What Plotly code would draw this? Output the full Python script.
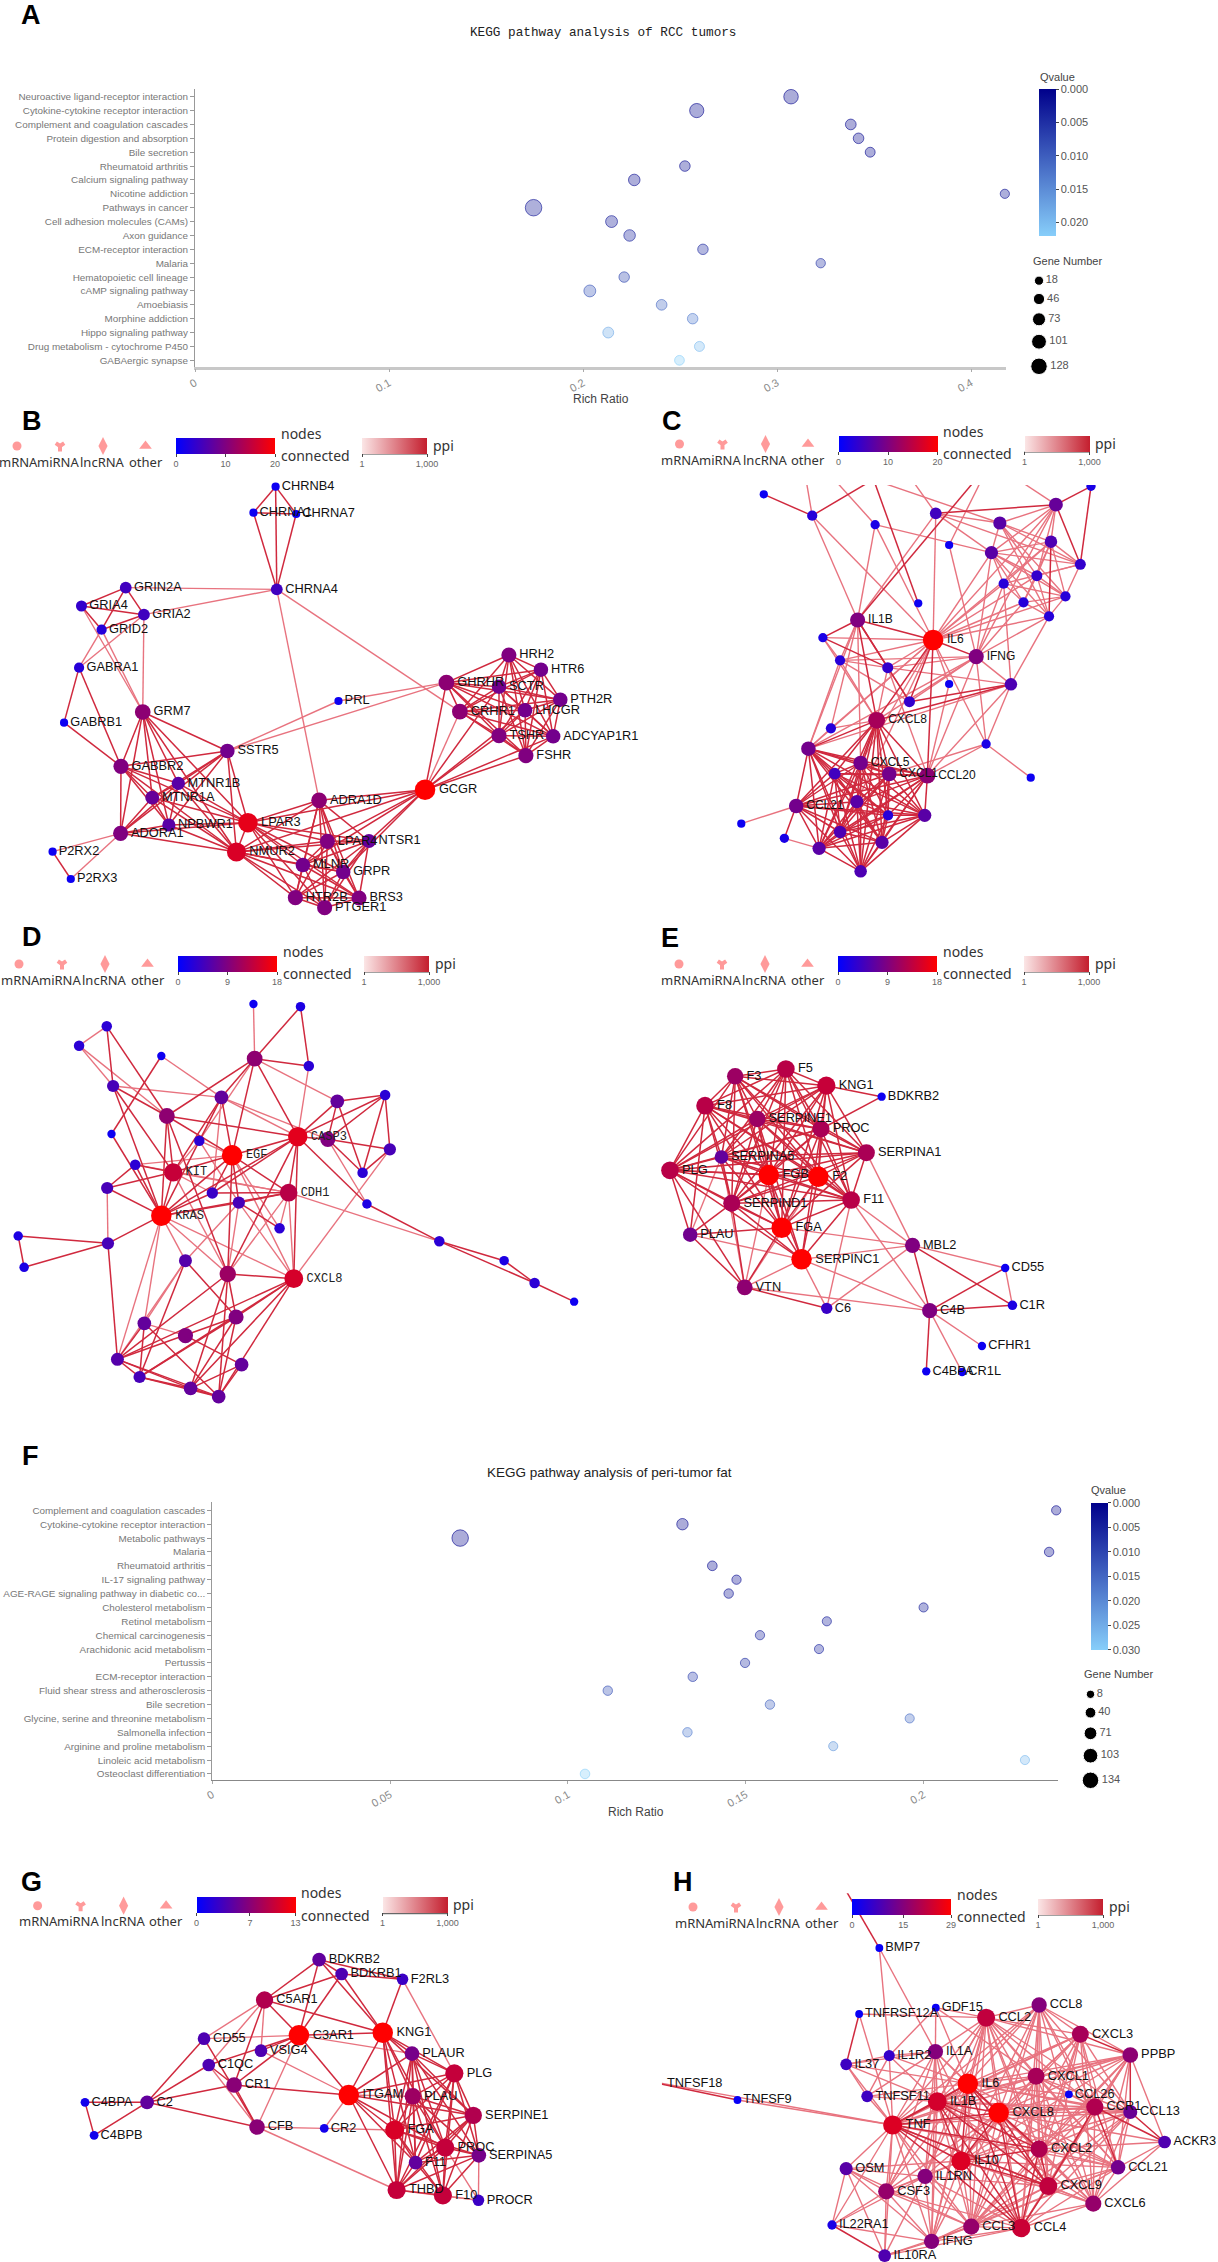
"""KEGG bubble charts and PPI networks, one page, axes laid out in page pixels."""

from itertools import combinations

import plotly.graph_objects as go

W, H = 1218, 2262

# ---- panel A
a_pathways = ["Neuroactive ligand-receptor interaction", "Cytokine-cytokine receptor interaction",
              "Complement and coagulation cascades", "Protein digestion and absorption", "Bile secretion",
              "Rheumatoid arthritis", "Calcium signaling pathway", "Nicotine addiction", "Pathways in cancer",
              "Cell adhesion molecules (CAMs)", "Axon guidance", "ECM-receptor interaction", "Malaria",
              "Hematopoietic cell lineage", "cAMP signaling pathway", "Amoebiasis", "Morphine addiction",
              "Hippo signaling pathway", "Drug metabolism - cytochrome P450", "GABAergic synapse"]
a_ratio = [0.3072, 0.2586, 0.338, 0.342, 0.348, 0.2525, 0.2264, 0.4174, 0.1745, 0.2147,
           0.224, 0.2618, 0.3225, 0.2212, 0.2035, 0.2405, 0.2565, 0.213, 0.26, 0.2497]
a_q = [0.0002, 0.0002, 0.0003, 0.0004, 0.0005, 0.001, 0.001, 0.0012, 0.0015, 0.002,
       0.003, 0.004, 0.005, 0.007, 0.009, 0.011, 0.013, 0.018, 0.020, 0.022]
a_genes = [95, 90, 38, 36, 27, 36, 50, 18, 128, 55, 50, 35, 20, 35, 55, 38, 35, 40, 28, 25]
a_size_legend = [18, 46, 73, 101, 128]
a_q_ticks = [0.0, 0.005, 0.010, 0.015, 0.020]
a_x_ticks = [0, 0.1, 0.2, 0.3, 0.4]

# ---- panel F
f_pathways = ["Complement and coagulation cascades", "Cytokine-cytokine receptor interaction", "Metabolic pathways",
              "Malaria", "Rheumatoid arthritis", "IL-17 signaling pathway",
              "AGE-RAGE signaling pathway in diabetic co...", "Cholesterol metabolism", "Retinol metabolism",
              "Chemical carcinogenesis", "Arachidonic acid metabolism", "Pertussis", "ECM-receptor interaction",
              "Fluid shear stress and atherosclerosis", "Bile secretion", "Glycine, serine and threonine metabolism",
              "Salmonella infection", "Arginine and proline metabolism", "Linoleic acid metabolism",
              "Osteoclast differentiation"]
f_ratio = [0.2373, 0.1322, 0.0697, 0.2353, 0.1406, 0.1474, 0.1452, 0.2, 0.1728, 0.154,
           0.1706, 0.1498, 0.1351, 0.1112, 0.1568, 0.1961, 0.1336, 0.1746, 0.2285, 0.1048]
f_q = [0.0005, 0.0005, 0.0006, 0.0008, 0.001, 0.0015, 0.002, 0.003, 0.004, 0.005,
       0.005, 0.006, 0.009, 0.011, 0.014, 0.016, 0.018, 0.022, 0.027, 0.030]
f_genes = [20, 50, 134, 22, 25, 20, 22, 18, 18, 20, 18, 20, 22, 22, 22, 18, 22, 18, 18, 24]
f_size_legend = [8, 40, 71, 103, 134]
f_q_ticks = [0.0, 0.005, 0.010, 0.015, 0.020, 0.025, 0.030]
f_x_ticks = [0, 0.05, 0.1, 0.15, 0.2]

# ---- network B, node positions read in zoomed crop units
b_genes = ["CHRNB4", "CHRNA1", "CHRNA7", "CHRNA4", "GRIN2A", "GRIA4", "GRIA2", "GRID2", "GABRA1", "GABRB1", "GRM7",
           "SSTR5", "GABBR2", "MTNR1B", "MTNR1A", "NPBWR1", "ADORA1", "P2RX2", "P2RX3", "LPAR3", "NMUR2", "ADRA1D",
           "GCGR", "LPAR4", "NTSR1", "MLNR", "GRPR", "HTR2B", "BRS3", "PTGER1", "PRL", "GHRHR", "SCTR", "CRHR1",
           "LHCGR", "PTH2R", "HRH2", "HTR6", "TSHR", "ADCYAP1R1", "FSHR"]
b_x = [697, 641, 749, 700, 318, 206, 364, 257, 200, 162, 361, 575, 306, 451, 385, 427, 305, 133, 179, 627, 598, 807,
       1075, 828, 933, 766, 868, 747, 908, 821, 856, 1129, 1262, 1163, 1328, 1417, 1287, 1368, 1262, 1399, 1330]
b_y = [260, 338, 342, 568, 563, 618, 644, 689, 803, 968, 936, 1053, 1099, 1150, 1193, 1275, 1300, 1355, 1437, 1268,
       1356, 1201, 1169, 1324, 1323, 1395, 1416, 1493, 1494, 1523, 903, 848, 860, 935, 931, 899, 765, 809, 1007,
       1009, 1067]
b_conn = [1, 1, 1, 5, 5, 4, 5, 3, 3, 1, 11, 9, 10, 7, 8, 7, 10, 1, 1, 18, 17, 11, 20, 10, 8, 9, 9, 10, 10, 10, 1,
          11, 9, 11, 9, 9, 10, 9, 10, 9, 10]
b_dark_cliques = ["CHRNB4 CHRNA1 CHRNA7 CHRNA4", "GRIN2A GRIA4 GRIA2 GRID2", "GABRA1 GABRB1 GABBR2",
                  "SSTR5 GABBR2 MTNR1B MTNR1A NPBWR1 ADORA1 LPAR3 NMUR2",
                  "LPAR3 NMUR2 ADRA1D LPAR4 NTSR1 MLNR GRPR HTR2B BRS3 PTGER1",
                  "GHRHR SCTR CRHR1 LHCGR PTH2R HRH2 HTR6 TSHR ADCYAP1R1 FSHR", "P2RX2 P2RX3"]
b_dark_stars = {"GRM7": "SSTR5 GABBR2 MTNR1B MTNR1A NPBWR1 ADORA1 LPAR3 NMUR2",
                "GCGR": "ADRA1D LPAR3 NMUR2 LPAR4 NTSR1 MLNR GRPR GHRHR TSHR FSHR ADCYAP1R1 SCTR LHCGR",
                "GRID2": "GRIA2"}
b_light_stars = {"CHRNA4": "GRIN2A GRIA2 ADRA1D CRHR1", "GRM7": "GRIA4 GRID2 GRIA2", "GABRA1": "GRID2 GRIA2",
                 "PRL": "GHRHR SSTR5", "SSTR5": "GHRHR", "ADORA1": "P2RX2 P2RX3", "GCGR": "CRHR1"}

# ---- network C
c_genes = ["n1", "n2", "n3", "n4", "n5", "n6", "n7", "n8", "n9", "n10", "n11", "n12", "n13", "n14", "n15", "n16",
           "n17", "IL1B", "IL6", "IFNG", "n18", "n19", "n20", "n21", "n22", "n23", "CXCL8", "n24", "n25", "CXCL5",
           "n26", "CXCL1", "CCL20", "n27", "n28", "CCL21", "n29", "n30", "n31", "n32", "n33", "n34", "n35", "n36",
           "n37", "u1", "u2", "u3", "u4", "u5", "u6", "u7", "u8", "u9"]
c_x = [377, 504, 669, 828, 996, 1143, 1235, 863, 974, 1130, 1207, 1093, 1006, 1058, 1168, 1125, 782, 623, 821, 934,
       532, 577, 702, 863, 1025, 759, 673, 553, 494, 631, 563, 706, 806, 960, 1077, 462, 621, 703, 799, 577, 687,
       522, 631, 318, 431, 476, 795, 492, 637, 437, 710, 987, 998, 926]
c_y = [283, 347, 374, 340, 369, 314, 259, 435, 458, 425, 493, 527, 551, 607, 589, 649, 610, 660, 720, 770, 713, 781,
       803, 852, 853, 905, 961, 985, 1046, 1089, 1121, 1122, 1127, 1032, 1133, 1218, 1205, 1246, 1246, 1296, 1327,
       1345, 1414, 1271, 1315, 160, 150, 150, 150, 150, 150, 150, 150, 150]
c_conn = [1, 3, 2, 5, 7, 8, 2, 1, 7, 6, 4, 4, 3, 3, 3, 3, 1, 10, 20, 10, 2, 3, 4, 1, 6, 4, 13, 3, 9, 9, 5, 9, 11, 2,
          1, 9, 7, 3, 7, 6, 7, 7, 6, 1, 2, 1, 1, 1, 1, 1, 1, 1, 1, 1]
c_dark_cliques = ["CXCL8 n25 CXCL5 n26 CXCL1 CCL20 CCL21 n29 n30 n31 n32 n33 n34 n35"]
c_dark_stars = {"n1": "n2", "n2": "u2", "n4": "n6", "n6": "n7 n11", "n7": "n11", "n10": "n16", "IL1B": "n18 IL6 CXCL8 n20 n23 u8",
                "IL6": "IFNG CXCL8 n23 CCL20", "n22": "n23 CXCL8", "n17": "u4", "CCL21": "n37", "n18": "n20"}
c_light_stars = {"n2": "IL1B IL6 u1", "n3": "IL1B IL6 n9 u3", "n4": "IL6 n5 n9 n11 IL1B u6", "n5": "n6 n10 n9 n11 n12 n15 n16 u5",
                 "n6": "n9 n10 n12 n13 IL6 IFNG u9", "n8": "IFNG u7", "n9": "IL6 n12 n13 n14 n15 n16 n11 IFNG n10",
                 "n10": "n11 n12 n13 n14 n15 IL6", "n11": "n15 n13 n12", "n12": "n14 n15 n16 IL6", "n13": "n14 n15 n22 IL6",
                 "n14": "n15 n16 IL6", "n15": "n16 IL6", "n16": "IL6 IFNG n22",
                 "IL6": "n18 n19 n20 n9 n24 n25 CXCL5 n29", "IFNG": "n13 n14 n20 n22 n23 CXCL8 CCL20 n25 n27 n19",
                 "n22": "n25 CCL20 n27 n20", "n27": "CCL20 n28 IL6 CXCL1", "IL1B": "n19 n24 n25 CXCL5 n3",
                 "n18": "n19 CXCL8", "n19": "n20 n23 CXCL8 n25", "n20": "CXCL8 n23 CCL20", "n21": "IL6 CCL20",
                 "n24": "CXCL8 n25", "CCL21": "n36", "n37": "n34"}

# ---- network D
d_genes = ["a1", "a2", "a3", "a4", "a5", "a6", "a7", "a8", "a9", "a10", "a11", "a12", "a13", "a14", "CASP3", "a15",
           "EGF", "a16", "a17", "KIT", "a18", "a19", "a20", "CDH1", "a21", "a22", "KRAS", "a23", "a24", "a25", "a26",
           "a27", "a28", "a29", "a30", "CXCL8", "a31", "a32", "a33", "a34", "a35", "a36", "a37", "a38", "a39", "a40"]
d_x = [641, 760, 270, 200, 408, 644, 781, 286, 560, 974, 853, 422, 282, 504, 753, 829, 587, 986, 342, 438, 917, 271,
       537, 730, 604, 928, 408, 707, 46, 273, 1111, 469, 61, 1275, 576, 743, 1352, 1452, 597, 365, 469, 297, 611,
       353, 482, 553]
d_y = [222, 230, 289, 347, 378, 386, 408, 468, 502, 495, 514, 558, 612, 632, 620, 628, 676, 658, 704, 727, 728, 774,
       789, 788, 818, 822, 857, 895, 918, 940, 934, 992, 1012, 992, 1032, 1046, 1059, 1115, 1161, 1180, 1217, 1288,
       1304, 1341, 1375, 1400]
d_conn = [1, 2, 3, 3, 1, 10, 3, 5, 7, 3, 7, 10, 1, 3, 16, 9, 18, 5, 3, 14, 3, 5, 4, 13, 5, 2, 18, 3, 2, 5, 3, 6, 2,
          2, 11, 15, 3, 1, 9, 7, 9, 6, 7, 5, 7, 7]
d_dark_stars = {"a2": "a6 a7", "a3": "a8 a12", "a5": "a13", "a13": "KRAS", "a6": "a7 a9 a12 CASP3 EGF", "a8": "a12 KRAS KIT",
                "a9": "EGF KIT KRAS", "a12": "EGF CASP3 KIT KRAS a30", "a11": "CASP3 a10 a18 a15", "a10": "CASP3 a15 a18 a16",
                "a15": "CASP3 a16 a18", "a16": "a18", "a17": "KIT a19 KRAS", "a19": "KIT KRAS", "KRAS": "KIT EGF a20 a21 CDH1 CASP3 a25",
                "EGF": "CASP3 CDH1 a20 a21 KIT a30", "CASP3": "a20 CDH1 CXCL8 a30 a22", "CDH1": "a20 a21", "a21": "a23",
                "a25": "a24 a28 a36", "a24": "a28", "a22": "a26", "a26": "a29 a31", "a29": "a31", "a31": "a32",
                "a30": "CXCL8 a33 a36 a39 a40", "CXCL8": "a33 a36 a38 a39 a40", "a27": "a33 a38", "a33": "a36 a38 a39 a40",
                "a34": "a36 a38 a40", "a36": "a38 a39 a40", "a37": "a39 a40", "a38": "a39 a40", "a39": "a40", "a35": "a37"}
d_light_stars = {"a1": "a6", "a3": "a4", "a4": "a8 a12", "a5": "a9", "a6": "a11 EGF a14", "a7": "CASP3", "a8": "a9",
                 "a9": "CASP3 a15 a20", "a10": "a16", "a16": "CXCL8", "a17": "EGF CDH1", "a19": "a25", "a22": "a15",
                 "KRAS": "a27 a30 a34 CXCL8 a36", "KIT": "a30 a20 CDH1", "EGF": "a23 a30 CXCL8 a14", "a14": "KIT a21",
                 "CDH1": "a26 a23 CXCL8 a30", "a21": "a27 a30", "a25": "KRAS", "a27": "a34 a36", "a34": "a35", "CXCL8": "a21"}

# ---- network E
e_genes = ["F3", "F5", "KNG1", "BDKRB2", "F8", "SERPINE1", "PROC", "SERPINA1", "SERPINA5", "PLG", "FGB", "F2",
           "SERPIND1", "F11", "FGA", "PLAU", "MBL2", "SERPINC1", "CD55", "VTN", "C6", "C1R", "C4B", "CFHR1", "C4BPA",
           "CR1L"]
e_x = [302, 435, 541, 686, 223, 360, 527, 646, 266, 131, 390, 520, 293, 606, 424, 184, 767, 476, 1010, 327, 542,
       1029, 812, 949, 803, 897]
e_y = [439, 417, 467, 500, 527, 567, 597, 668, 681, 721, 735, 740, 820, 810, 893, 914, 946, 988, 1014, 1072, 1135,
       1126, 1142, 1248, 1324, 1326]
e_conn = [11, 13, 14, 1, 13, 11, 12, 12, 7, 13, 18, 18, 12, 13, 18, 8, 9, 18, 1, 10, 4, 2, 9, 1, 1, 1]
e_dark_cliques = ["F3 F5 KNG1 F8 SERPINE1 PROC SERPINA1 SERPINA5 PLG FGB F2 SERPIND1 F11 FGA"]
e_dark_stars = {"BDKRB2": "KNG1 PROC", "SERPINC1": "FGB F2 FGA SERPIND1 F11 PLG PROC SERPINE1", "PLAU": "PLG SERPIND1 FGA VTN F8",
                "VTN": "PLG SERPIND1 FGA C6", "MBL2": "C4B C1R", "C4B": "CD55 C1R C4BPA"}
e_light_stars = {"SERPINC1": "PLAU VTN C6 MBL2 C4B", "VTN": "FGB F2 SERPINC1 SERPINA5 C4B", "PLAU": "SERPINA5",
                 "MBL2": "SERPINA1 F11 FGA CD55 C6", "C4B": "CFHR1 CR1L F11", "CD55": "C1R", "C6": "F11"}

# ---- network G
g_genes = ["BDKRB2", "BDKRB1", "F2RL3", "C5AR1", "C3AR1", "KNG1", "CD55", "VSIG4", "PLAUR", "C1QC", "PLG", "CR1",
           "ITGAM", "PLAU", "C4BPA", "C2", "SERPINE1", "CFB", "CR2", "FGA", "C4BPB", "PROC", "SERPINA5", "F11", "THBD",
           "F10", "PROCR"]
g_x = [807, 864, 1018, 669, 756, 968, 516, 660, 1042, 528, 1149, 592, 882, 1044, 215, 372, 1197, 650, 820, 998, 238,
       1126, 1211, 1051, 1003, 1120, 1210]
g_y = [329, 372, 388, 450, 556, 548, 566, 602, 611, 645, 670, 705, 735, 739, 757, 757, 796, 831, 835, 840, 856, 893,
       916, 938, 1020, 1036, 1051]
g_conn = [5, 4, 3, 9, 13, 13, 4, 4, 6, 4, 10, 7, 13, 8, 1, 5, 9, 7, 1, 11, 1, 10, 6, 5, 10, 10, 3]
g_dark_cliques = ["PLAUR PLG PLAU SERPINE1 FGA PROC SERPINA5 F11 THBD F10"]
g_dark_stars = {"BDKRB2": "BDKRB1 F2RL3 C5AR1 C3AR1 KNG1", "BDKRB1": "F2RL3 C5AR1 C3AR1 KNG1", "F2RL3": "KNG1",
                "C5AR1": "C3AR1 KNG1 CR1", "C3AR1": "KNG1 VSIG4 C1QC CR1 ITGAM", "KNG1": "ITGAM PLAUR PLG PLAU FGA SERPINE1 PROC F11 THBD",
                "CD55": "C2 CFB", "C1QC": "C2 CR1", "CR1": "C2 ITGAM CFB", "C2": "C4BPA C4BPB CFB", "C4BPA": "C4BPB",
                "ITGAM": "PLAUR PLG FGA SERPINE1 F11 THBD PROC"}
g_light_stars = {"C5AR1": "VSIG4 CD55 C1QC", "C3AR1": "CD55 CFB PLAUR", "VSIG4": "ITGAM", "C1QC": "CFB",
                 "CFB": "CR2 THBD", "ITGAM": "CR2 PLAU", "CR2": "FGA", "F2RL3": "PLG", "PROCR": "PROC THBD F10 SERPINA5"}

# ---- network H
h_genes = ["BMP7", "GDF15", "TNFRSF12A", "CCL8", "CCL2", "CXCL3", "PPBP", "IL1A", "IL1R2", "IL37", "CXCL1", "IL6",
           "TNFSF11", "CCL26", "IL1B", "CCR1", "CCL13", "CXCL8", "TNFSF9", "TNF", "ACKR3", "CXCL2", "IL10", "CCL21",
           "OSM", "IL1RN", "CXCL9", "CSF3", "CXCL6", "IL22RA1", "CCL3", "CCL4", "IFNG", "IL10RA", "p1", "p2"]
h_x = [680, 828, 627, 1099, 960, 1207, 1338, 827, 706, 593, 1091, 912, 648, 1177, 832, 1245, 1338, 993, 308, 715,
       1428, 1099, 894, 1306, 593, 800, 1123, 698, 1241, 556, 921, 1052, 817, 694, 556, 40]
h_y = [294, 473, 492, 465, 503, 553, 615, 605, 617, 643, 679, 701, 739, 733, 755, 771, 786, 788, 750, 825, 876, 897,
       933, 952, 956, 979, 1008, 1024, 1061, 1125, 1130, 1134, 1174, 1217, 50, 686]
h_conn = [1, 1, 1, 15, 22, 19, 16, 15, 6, 7, 19, 29, 7, 1, 24, 20, 12, 29, 1, 25, 9, 20, 25, 13, 10, 15, 22, 17, 17,
          3, 17, 23, 15, 9, 1, 1]
h_dark_cliques = ["CXCL8 IL6 TNF IL1B IL10 CCL4 CXCL9 CXCL2"]
h_dark_stars = {"BMP7": "p1", "p2": "TNFSF9", "IL22RA1": "IL10RA", "TNFRSF12A": "IL37", "ACKR3": "CCR1 CCL13",
                "CCR1": "CCL21 CXCL9", "PPBP": "CXCL3 CCL13"}
h_light_cliques = ["CCL8 CCL2 CXCL3 PPBP CXCL1 IL6 CCR1 CCL13 CXCL8 CXCL2 IL10 CCL21 CXCL9 CXCL6 CCL3 CCL4 TNF IL1B",
                   "TNF IL1B IL6 IL1A IL10 IL1RN CSF3 CXCL8 CCL2 IFNG CCL4",
                   "OSM CSF3 IL22RA1 IL10RA IFNG TNF IL1RN", "IL37 IL1R2 IL1A IL1B TNFSF11 TNF IL6",
                   "ACKR3 CCR1 CCL13 CCL21 CXCL2 CXCL6 PPBP CXCL8"]
h_light_stars = {"BMP7": "IL1A IL1R2", "TNFRSF12A": "TNF CCL2", "GDF15": "IL1R2 IL1A CCL2 CXCL1 IL6", "TNFSF9": "TNF", "p2": "TNF",
                 "CCL26": "CCR1 CXCL8 IL6 CXCL1", "IL10RA": "CCL4 CCL3 CSF3", "IFNG": "CCL3 CCL21 CXCL9 CXCL8 IL10",
                 "IL1RN": "CCL3 CXCL9 IL6", "CSF3": "CCL3 CXCL8 IL10", "OSM": "IL10 CCL3"}

ppi_scale = [[0, "#fbe6e6"], [1, "#c41e2e"]]
node_scale = [[0, "#0000ff"], [1, "#ff0000"]]
q_scale = [[0, "#87cefa"], [1, "#00008b"]]
DARK_EDGE, LIGHT_EDGE = "#d0293e", "#e8737f"
SALMON = "#ff9a9a"
LEGEND_TEXT = "Noto Sans"

fig = go.Figure()
layout = {}
axis_count = 0
color_count = 0


def add_axes(x0, x1, y0, y1, xr, yr, **kw):
    """New axis pair placed at page pixels x0-x1, y0-y1. Returns x and y refs."""
    global axis_count
    axis_count += 1
    n = axis_count
    xopts = dict(domain=[x0 / W, min(x1 / W, 1)], range=xr, anchor=f"y{n}", visible=False, fixedrange=True)
    yopts = dict(domain=[max(1 - y1 / H, 0), 1 - y0 / H], range=yr, anchor=f"x{n}", visible=False, fixedrange=True)
    xopts.update(kw.get("x", {}))
    yopts.update(kw.get("y", {}))
    layout[f"xaxis{n}"] = xopts
    layout[f"yaxis{n}"] = yopts
    return f"x{n}", f"y{n}"


def new_coloraxis(cmin, cmax, scale, colorbar):
    global color_count
    color_count += 1
    name = "coloraxis" if color_count == 1 else f"coloraxis{color_count}"
    layout[name] = dict(cmin=cmin, cmax=cmax, colorscale=scale, colorbar=colorbar)
    return name


page_x, page_y = add_axes(0, W, 0, H, [0, W], [H, 0])


def text(x, y, s, size=13, color="#333", family=LEGEND_TEXT, anchor="center", bold=False):
    fig.add_annotation(xref=page_x, yref=page_y, x=x, y=y, text=f"<b>{s}</b>" if bold else s, showarrow=False,
                       xanchor=anchor, yanchor="middle", font=dict(size=size, color=color, family=family))


def horizontal_bar(left, top, length, vmin, vmax, ticks, ticktext, scale):
    bar = dict(orientation="h", x=left / W, xanchor="left", y=1 - top / H, yanchor="top",
               lenmode="pixels", len=length, thicknessmode="pixels", thickness=16, xpad=0, ypad=0,
               outlinewidth=0, ticks="outside", ticklen=3, tickcolor="#444", tickvals=ticks, ticktext=ticktext,
               tickfont=dict(size=9, color="#666", family="Liberation Sans"))
    return new_coloraxis(vmin, vmax, scale, bar)


def add_legend(dx, dy, node_ticks):
    """The mRNA/miRNA/... key and both gradient bars; offsets measured against panel B."""
    fig.add_trace(go.Scatter(x=[17 + dx, 60 + dx, 103 + dx, 145.5 + dx], y=[446 + dy] * 4, mode="markers",
                             xaxis=page_x, yaxis=page_y, hoverinfo="skip", showlegend=False,
                             marker=dict(symbol=["circle", "y-down", "diamond-tall", "triangle-up"], size=[9, 7, 13, 11],
                                         color=SALMON, opacity=1, line=dict(color=SALMON, width=[0, 4, 0, 0]))))
    for cx, label in zip([18, 57.7, 102.8, 145.5], ["mRNA", "miRNA", "lncRNA", "other"]):
        text(cx + dx, 461.7 + dy, label)
    text(301 + dx, 433 + dy, "nodes", size=14)
    text(315 + dx, 455.7 + dy, "connected", size=14)
    text(443 + dx, 445 + dy, "ppi", size=14)
    ppi = horizontal_bar(362 + dx, 437.7 + dy, 65, 1, 1000, [1, 1000], ["1", "1,000"], ppi_scale)
    fig.add_trace(go.Scatter(x=[0, 0], y=[0, 0], mode="markers", xaxis=page_x, yaxis=page_y, hoverinfo="skip",
                             showlegend=False, marker=dict(color=[1, 1000], coloraxis=ppi, opacity=0, size=1)))
    fig.add_shape(type="line", xref=page_x, yref=page_y, x0=362 + dx, x1=427 + dx, y0=454 + dy, y1=454 + dy,
                  line=dict(color="#444", width=1))
    return horizontal_bar(176 + dx, 437.7 + dy, 99, node_ticks[0], node_ticks[-1], node_ticks,
                          [str(t) for t in node_ticks], node_scale)


def edge_pairs(cliques=(), stars=None):
    pairs = set()
    for group in cliques:
        pairs.update(frozenset(p) for p in combinations(group.split(), 2))
    for hub, others in (stars or {}).items():
        pairs.update(frozenset((hub, o)) for o in others.split())
    return pairs


def add_network(box, scale_x, genes, xs, ys, conn, dark, light, node_ticks, label_font):
    """box is page x/y origin; data stays in crop units, converted only through the axis domain."""
    ox, oy, xr, yr = box
    xref, yref = add_axes(ox + xr[0] / scale_x, ox + xr[1] / scale_x, oy + yr[0] / 3, oy + yr[1] / 3, xr, yr[::-1])
    pos = {g: (x, y) for g, x, y in zip(genes, xs, ys)}
    for pairs, color, width in ((light - dark, LIGHT_EDGE, 1.4), (dark, DARK_EDGE, 1.5)):
        ex, ey = [], []
        for pair in sorted(sorted(p) for p in pairs):
            a, b = pair
            ex += [pos[a][0], pos[b][0], None]
            ey += [pos[a][1], pos[b][1], None]
        fig.add_trace(go.Scatter(x=ex, y=ey, mode="lines", xaxis=xref, yaxis=yref, hoverinfo="skip", showlegend=False,
                                 line=dict(color=color, width=width)))
    cmax = node_ticks[-1]
    sizes = [6.5 + 14 * (c / cmax) ** 0.7 for c in conn]
    labels = [g if g[0].isupper() else "" for g in genes]
    axis_name = add_legend(*LEGEND_OFFSETS[len(drawn)], node_ticks)
    drawn.append(axis_name)
    fig.add_trace(go.Scatter(x=xs, y=ys, mode="markers+text", xaxis=xref, yaxis=yref, showlegend=False, text=labels,
                             textposition="middle right", textfont=label_font, hovertext=genes, hoverinfo="text",
                             marker=dict(color=conn, coloraxis=axis_name, size=sizes, opacity=1, line=dict(width=0))))
    return xref, yref


def add_bubbles(box, rng, cat_range, pathways, x_ticks, axis_line):
    x0, x1, y0, y1 = box
    return add_axes(
        x0, x1, y0, y1, rng, cat_range,
        x=dict(visible=True, showgrid=False, zeroline=False, showline=True, linecolor=axis_line[0], linewidth=axis_line[1],
               ticks="outside", ticklen=3, tickcolor="#aaa", tickvals=x_ticks, ticktext=[str(t) for t in x_ticks],
               tickangle=-30, tickfont=dict(size=11, color="#888", family="Liberation Sans")),
        y=dict(visible=True, type="category", categoryorder="array", categoryarray=pathways, showgrid=False,
               zeroline=False, showline=True, linecolor="#999", linewidth=1, ticks="outside", ticklen=4,
               tickcolor="#999", tickfont=dict(size=9.9, color="#777", family="Liberation Sans")))


def gene_size(g, gmax):
    return 7.5 + 9 * (g / gmax) ** 0.85


def draw_bubbles(xref, yref, ratio, pathways, q, genes, caxis):
    gmax = max(genes)
    sizes = [gene_size(g, gmax) for g in genes]
    neg_q = [-v for v in q]  # colorbar runs 0 at top, so the scale is fed negated
    fig.add_trace(go.Scatter(x=ratio, y=pathways, mode="markers", xaxis=xref, yaxis=yref, showlegend=False,
                             cliponaxis=False,
                             marker=dict(color=neg_q, coloraxis=caxis, size=sizes, opacity=0.33, line=dict(width=0))))
    fig.add_trace(go.Scatter(x=ratio, y=pathways, mode="markers", xaxis=xref, yaxis=yref, showlegend=False,
                             hoverinfo="skip", cliponaxis=False,
                             marker=dict(color=neg_q, coloraxis=caxis, size=sizes, symbol="circle-open", opacity=0.6,
                                         line=dict(width=1))))


def q_bar(left, top, length, qmax, ticks):
    bar = dict(x=left / W, xanchor="left", y=1 - top / H, yanchor="top", lenmode="pixels", len=length,
               thicknessmode="pixels", thickness=17, xpad=0, ypad=0, outlinewidth=0, ticks="outside", ticklen=3,
               tickcolor="#444", tickvals=[-t for t in ticks], ticktext=[f"{t:.3f}" for t in ticks],
               tickfont=dict(size=11, color="#555", family="Liberation Sans"))
    return new_coloraxis(-qmax, 0, q_scale, bar)


# ---- bubble panel A
xa, ya = add_bubbles((195, 1006, 89, 366.7), [0, 0.418], [19.46, -0.555], a_pathways, a_x_ticks, ("#c8c8c8", 2.5))
draw_bubbles(xa, ya, a_ratio, a_pathways, a_q, a_genes, q_bar(1039, 89, 147, 0.022, a_q_ticks))
text(603, 32.7, "KEGG pathway analysis of RCC tumors", size=12.7, color="#222", family="Liberation Mono")
text(601, 399, "Rich Ratio", size=12, color="#444", family="Liberation Sans")
text(1057, 76.7, "Qvalue", size=11, color="#444", family="Liberation Sans")
text(1067, 260.7, "Gene Number", size=11, color="#444", family="Liberation Sans")
fig.add_trace(go.Scatter(x=[1039] * 5, y=[280.7, 299, 319.3, 341.7, 366.3], mode="markers+text", xaxis=page_x,
                         yaxis=page_y, showlegend=False, hoverinfo="skip", text=[str(v) for v in a_size_legend],
                         textposition="middle right", textfont=dict(size=11, color="#555", family="Liberation Sans"),
                         marker=dict(color="#000", opacity=1, size=[gene_size(v, 128) for v in a_size_legend])))

# ---- bubble panel F
xf, yf = add_bubbles((212.3, 1058, 1502, 1780.3), [0, 0.2378], [19.46, -0.6], f_pathways, f_x_ticks, ("#888", 1))
draw_bubbles(xf, yf, f_ratio, f_pathways, f_q, f_genes, q_bar(1090.5, 1502.7, 146.6, 0.030, f_q_ticks))
text(609, 1472.3, "KEGG pathway analysis of peri-tumor fat", size=13.5, color="#222", family="Liberation Sans")
text(636, 1812, "Rich Ratio", size=12, color="#444", family="Liberation Sans")
text(1108.5, 1490, "Qvalue", size=11, color="#444", family="Liberation Sans")
text(1118, 1674, "Gene Number", size=11, color="#444", family="Liberation Sans")
fig.add_trace(go.Scatter(x=[1090.5] * 5, y=[1694.3, 1712.7, 1733.3, 1755.7, 1780.3], mode="markers+text", xaxis=page_x,
                         yaxis=page_y, showlegend=False, hoverinfo="skip", text=[str(v) for v in f_size_legend],
                         textposition="middle right", textfont=dict(size=11, color="#555", family="Liberation Sans"),
                         marker=dict(color="#000", opacity=1, size=[gene_size(v, 134) for v in f_size_legend])))

# ---- networks
arial = dict(size=12.8, color="#111", family="Liberation Sans")
mono = dict(size=12, color="#222", family="Liberation Mono")
LEGEND_OFFSETS = [(0, 0), (662.5, -2), (2, 518), (662, 518), (20.6, 1459.7), (676, 1461)]
drawn = []

# B runs a little wider than its crop so ADCYAP1R1 is not clipped
add_network((0, 400, [0, 1720], [0, 1560]), 2.529, b_genes, b_x, b_y, b_conn,
            edge_pairs(b_dark_cliques, b_dark_stars), edge_pairs((), b_light_stars), [0, 10, 20], arial)
add_network((620, 400, [0, 1568], [255, 1560]), 2.622, c_genes, c_x, c_y, c_conn,
            edge_pairs(c_dark_cliques, c_dark_stars), edge_pairs((), c_light_stars), [0, 10, 20],
            dict(size=12, color="#111", family="Liberation Sans"))
add_network((0, 930, [0, 1568], [0, 1440]), 2.529, d_genes, d_x, d_y, d_conn,
            edge_pairs((), d_dark_stars), edge_pairs((), d_light_stars), [0, 9, 18], mono)
add_network((620, 930, [0, 1568], [0, 1440]), 2.622, e_genes, e_x, e_y, e_conn,
            edge_pairs(e_dark_cliques, e_dark_stars), edge_pairs((), e_light_stars), [0, 9, 18], arial)
add_network((0, 1850, [0, 1568], [0, 1236]), 2.529, g_genes, g_x, g_y, g_conn,
            edge_pairs(g_dark_cliques, g_dark_stars), edge_pairs((), g_light_stars), [0, 7, 13], arial)
xh, yh = add_network((620, 1850, [110, 1568], [130, 1236]), 2.622, h_genes, h_x, h_y, h_conn,
                     edge_pairs(h_dark_cliques, h_dark_stars), edge_pairs(h_light_cliques, h_light_stars), [0, 15, 29],
                     arial)
fig.add_trace(go.Scatter(x=[196], y=[701], mode="text", text=["TNFSF18"], xaxis=xh, yaxis=yh, showlegend=False,
                         textfont=arial, hoverinfo="skip"))

# ---- panel letters
for letter, lx, ly in [("A", 30.5, 14.5), ("B", 31.6, 420.7), ("C", 671.5, 420.7), ("D", 31.6, 936.7), ("E", 670, 938),
                       ("F", 30, 1456), ("G", 31.6, 1881.7), ("H", 683, 1881.7)]:
    text(lx, ly, letter, size=27, color="#000", family="Liberation Sans", bold=True)

# transparent plot areas, since the panel axes overlap the page axes carrying the keys
fig.update_layout(width=W, height=H, margin=dict(l=0, r=0, t=0, b=0, autoexpand=False), paper_bgcolor="white",
                  plot_bgcolor="rgba(0,0,0,0)", showlegend=False, **layout)

# the browser's default body margin would push everything 8px off
fig.write_html("out.html", config={"displayModeBar": False}, post_script="document.body.style.margin='0';")
